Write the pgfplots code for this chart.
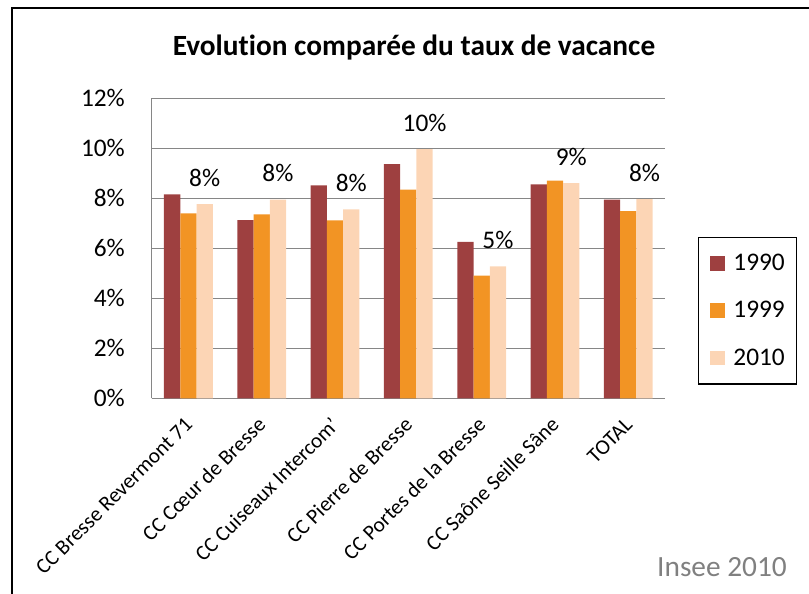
\documentclass[border=0pt]{standalone}
\usepackage{pgfplots}
\pgfplotsset{compat=1.18}
\usepackage{fontspec}
\setmainfont{Carlito}[Ligatures=NoCommon]
\definecolor{c1990}{RGB}{158,64,64}
\definecolor{c1999}{RGB}{242,148,36}
\definecolor{c2010}{RGB}{252,213,181}
\definecolor{gridc}{RGB}{134,134,134}
\definecolor{srcgray}{RGB}{128,128,128}
\begin{document}
\begin{tikzpicture}
\useasboundingbox (0,0) rectangle (606.75pt,444.75pt);
\draw[line width=1.8pt] (9pt,-20pt) rectangle (620pt,438.75pt);
\begin{axis}[
  at={(113.8pt,146pt)}, anchor=south west,
  scale only axis, width=384.9pt, height=225pt,
  ybar=0pt, bar width=12.2pt,
  xmin=-0.5, xmax=6.5, ymin=0, ymax=12,
  enlargelimits=false,
  xtick={0,...,6},
  xticklabels={CC Bresse Revermont 71, CC Cœur de Bresse, CC Cuiseaux Intercom', CC Pierre de Bresse, CC Portes de la Bresse, CC Saône Seille Sâne, TOTAL},
  ytick={0,2,...,12},
  yticklabel={\pgfmathprintnumber{\tick}\%},
  /pgf/number format/assume math mode=true,
  ymajorgrids, grid style={draw=gridc, line width=1.1pt},
  axis x line*=bottom, axis y line*=left,
  axis line style={draw=gridc, line width=1.1pt},
  major tick length=0pt,
  yticklabel style={font=\fontsize{19}{21}\selectfont, inner sep=0pt, xshift=-20pt},
  xticklabel style={font=\fontsize{16}{18}\selectfont, inner sep=0pt, xshift=4pt, yshift=-20.8pt, rotate=45, anchor=base east},
  title={\bfseries Evolution comparée du taux de vacance},
  every axis title shift=0pt,
  title style={font=\fontsize{22}{24}\selectfont, at={(0.511,1.168)}, anchor=center, inner sep=0pt},
  legend style={draw=black, line width=1pt, at={(1.064,0.538)}, anchor=north west,
    font=\fontsize{19}{21}\selectfont, inner xsep=9pt, inner ysep=12.5pt, row sep=21.6pt,
    nodes={inner sep=0pt}, /tikz/every odd column/.append style={column sep=6pt}},
  legend cell align=left,
  legend image code/.code={\fill[#1] (0pt,-5.6pt) rectangle (11.25pt,5.6pt);},
]
\addplot[fill=c1990, draw=none] coordinates {(0,8.16) (1,7.13) (2,8.52) (3,9.37) (4,6.26) (5,8.56) (6,7.95)};
\addplot[fill=c1999, draw=none] coordinates {(0,7.40) (1,7.36) (2,7.12) (3,8.35) (4,4.91) (5,8.71) (6,7.49)};
\addplot[fill=c2010, draw=none,
  nodes near coords={\pgfmathprintnumber[fixed,precision=0]{\pgfplotspointmeta}\%},
  nodes near coords style={font=\fontsize{19}{21}\selectfont, text=black, inner sep=0pt, anchor=base, yshift=13.5pt},
  ] coordinates {(0,7.77) (1,7.95) (2,7.56) (3,9.97) (4,5.28) (5,8.61) (6,7.97)};
\legend{1990,1999,2010}
\end{axis}
\node[font=\fontsize{22}{24}\selectfont, text=srcgray, anchor=center] at (541.5pt,19.5pt) {Insee 2010};
\end{tikzpicture}
\end{document}
